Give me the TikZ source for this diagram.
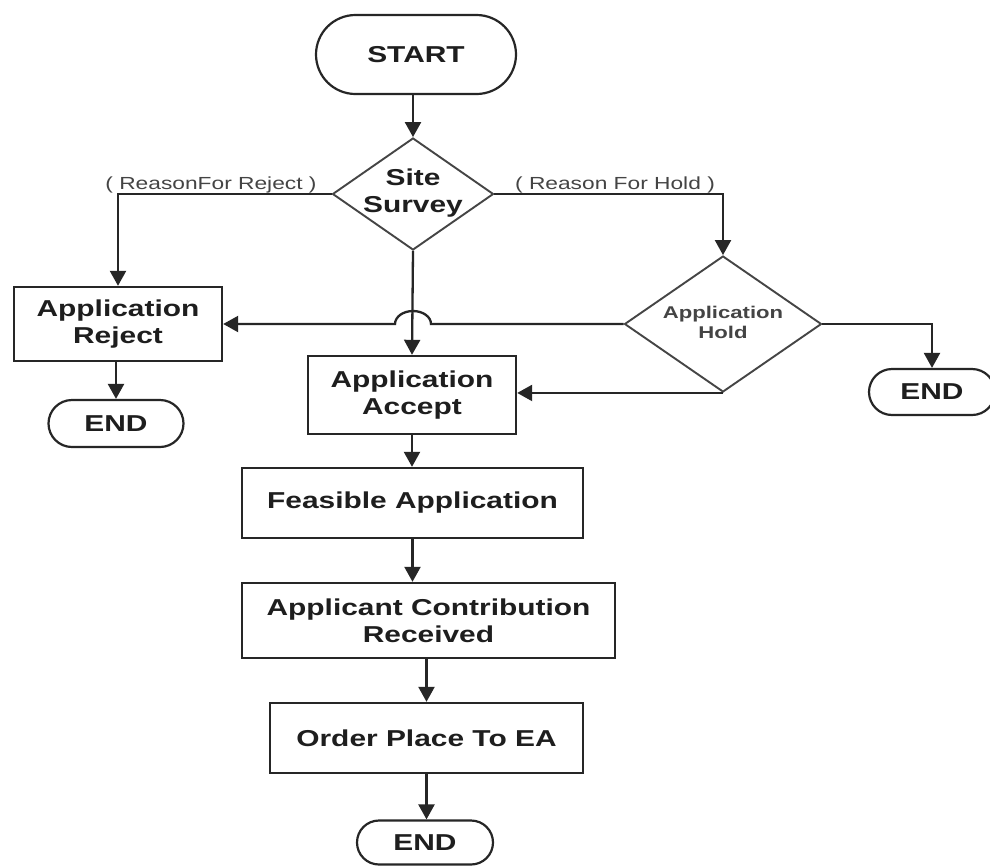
\documentclass[tikz,border=0pt]{standalone}
\usepackage{fontspec}
\setmainfont[FakeStretch=1.3]{Liberation Sans}
\usetikzlibrary{shapes.geometric,shapes.misc,arrows.meta,calc}
\definecolor{lc}{HTML}{262626}
\definecolor{dc}{HTML}{454545}
\definecolor{tc}{HTML}{1E1E1E}
\definecolor{gc}{HTML}{444444}
\begin{document}
\begin{tikzpicture}[x=1pt,y=-1pt,
  ln/.style={draw=lc, line width=2.3pt},
  arr/.style={ln, -{Triangle[length=15pt,width=16pt]}},
  mainfont/.style={font=\bfseries\fontsize{23}{27}\selectfont, text=tc, align=center},
  box/.style={rectangle, draw=lc, line width=2.4pt, fill=white, inner sep=0pt, mainfont},
  term/.style={rounded rectangle, draw=lc, line width=2.2pt, fill=white, inner sep=0pt, mainfont},
  dia/.style={diamond, draw=dc, line width=1.9pt, fill=white, inner sep=0pt},
  holdfont/.style={font=\bfseries\fontsize{17}{20}\selectfont, text=gc, align=center},
  lbl/.style={font=\fontsize{17.5}{20}\selectfont, text=gc, anchor=base}]
\useasboundingbox[fill=white] (0,0) rectangle (990,865);

% nodes
\node[term, minimum width=200pt, minimum height=79pt] (start) at (416,54.5) {START};
\node[dia, minimum width=161pt, minimum height=112pt] (ss) at (413,194) {};
\node[mainfont] (sst) at (413,193) {Site\\Survey};
\node[box, minimum width=208pt, minimum height=74pt] (reject) at (118,324) {Application\\Reject};
\node[term, minimum width=135pt, minimum height=47pt] (endL) at (116,423.5) {END};
\node[dia, minimum width=197pt, minimum height=136pt] (hold) at (723,324) {};
\node[holdfont] (holdt) at (723,322) {Application\\Hold};
\node[term, minimum width=126pt, minimum height=46pt] (endR) at (932,392) {END};
\node[box, minimum width=208pt, minimum height=78pt] (accept) at (412,395) {Application\\Accept};
\node[box, minimum width=341pt, minimum height=70pt] (feas) at (412.5,503) {Feasible Application};
\node[box, minimum width=373pt, minimum height=75pt] (contrib) at (428.5,620.5) {Applicant Contribution\\Received};
\node[box, minimum width=313pt, minimum height=70pt] (order) at (426.5,738) {Order Place To EA};
\node[term, minimum width=136pt, minimum height=44pt] (endB) at (425,842.5) {END};

% labels
\node[lbl] (lrej) at (211,189) {( ReasonFor Reject )};
\node[lbl] (lhold) at (615,189) {( Reason For Hold )};

% connectors
\draw[arr] (start.south -| ss.north) -- (ss.north);
\draw[arr] (ss.west) -| (reject.north);
\draw[arr] (ss.east) -| (hold.north);
\draw[arr] (ss.south) -- (accept.north);
\coordinate (hop) at (ss.south |- hold.west);
\draw[arr] (hold.west) -- ($(hop)+(18,0)$) arc[start angle=0, end angle=180, x radius=18pt, y radius=13pt] -- (reject.east);
\draw[arr] (hold.south) -- (hold.south -| accept.east);
\draw[arr] (hold.east) -| (endR.north);
\draw[arr] (reject.south -| endL.north) -- (endL.north);
\draw[arr] (accept.south) -- (accept.south |- feas.north);
\draw[arr] (feas.south) -- (feas.south |- contrib.north);
\draw[arr] (order.north |- contrib.south) -- (order.north);
\draw[arr] (order.south) -- (order.south |- endB.north);
\end{tikzpicture}
\end{document}
